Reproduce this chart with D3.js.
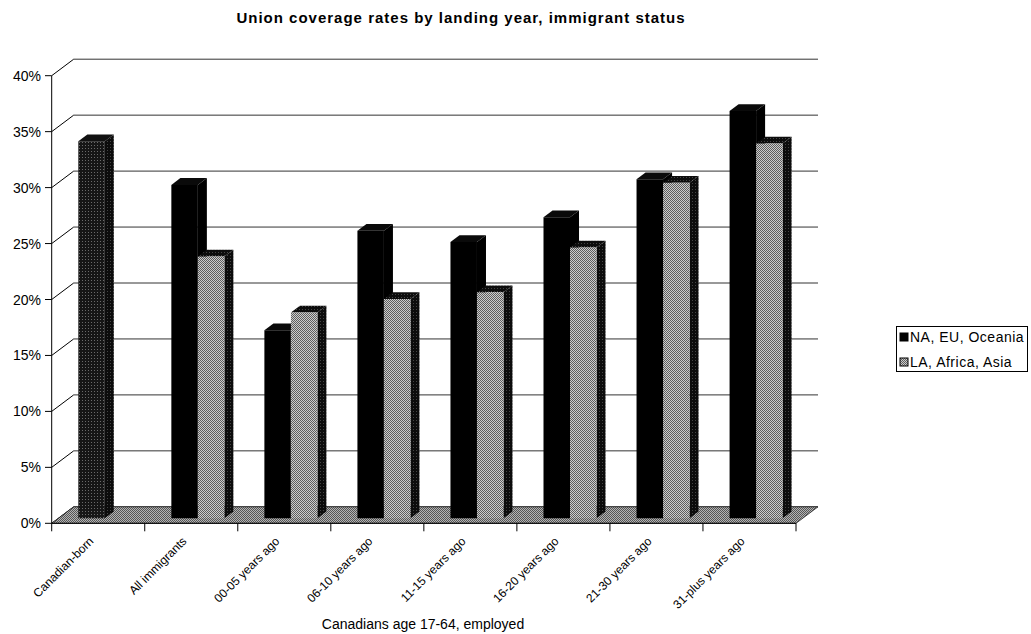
<!DOCTYPE html>
<html>
<head>
<meta charset="utf-8">
<script src="https://cdn.jsdelivr.net/npm/d3@7"></script>
<style>
  body { margin: 0; background: #fff; }
  text { font-family: Arial, "Liberation Sans", sans-serif; fill: #000; }
</style>
</head>
<body>
<div id="vis"></div>
<script>
// datos -----------------------------------------------------------------
const CATEGORIAS = ["Canadian-born", "All immigrants", "00-05 years ago", "06-10 years ago",
  "11-15 years ago", "16-20 years ago", "21-30 years ago", "31-plus years ago"];
const SERIES = ["NA, EU, Oceania", "LA, Africa, Asia"];
const NA_EU = [33.7, 29.8, 16.8, 25.7, 24.7, 26.9, 30.3, 36.4];
const LA_AF = [null, 23.4, 18.4, 19.6, 20.2, 24.2, 30.0, 33.5];
const Y_TICKS = [0, 5, 10, 15, 20, 25, 30, 35, 40];

const WIDTH = 1031;
const HEIGHT = 634;
const SVG = d3.select("#vis").append("svg").attr("width", WIDTH).attr("height", HEIGHT);

// profundidad del piso (efecto 3D)
const DX = 22, DY = -16.5;
const FRONT = 0.3, BACK = 0.71;   // profundidad de las barras (fraccion)

const x = d3.scaleBand().domain(CATEGORIAS).range([51.7, 796]).padding(0);
const xs = d3.scaleBand().domain(SERIES).range([0, x.bandwidth()]).paddingInner(0).paddingOuter(0.755);
const y = d3.scaleLinear().domain([0, 40]).range([523.3, 75.7]);

const P = (px, py, d) => [px + d * DX, py + d * DY];
const poly = pts => pts.map(p => p.join(",")).join(" ");

// patrones de textura
const defs = SVG.append("defs");
function patron(id, size, bg, fg, pix) {
  const p = defs.append("pattern").attr("id", id).attr("patternUnits", "userSpaceOnUse")
    .attr("width", size).attr("height", size);
  p.append("rect").attr("width", size).attr("height", size).attr("fill", bg);
  pix.forEach(([a, b]) => p.append("rect").attr("x", a).attr("y", b).attr("width", 1).attr("height", 1).attr("fill", fg));
}
patron("gris", 2, "#cdcdcd", "#5e5e5e", [[0, 0], [1, 1]]);
patron("piso", 2, "#b4b4b4", "#555", [[0, 0], [1, 1]]);
patron("oscuro", 3, "#161616", "#6a6a6a", [[1, 1]]);
patron("lado", 3, "#0c0c0c", "#444", [[2, 0]]);

// titulo
SVG.append("text").attr("x", 461).attr("y", 23).attr("text-anchor", "middle")
  .style("font-weight", "bold").style("font-size", "15px").style("letter-spacing", "1px")
  .text("Union coverage rates by landing year, immigrant status");

// paredes: grilla trasera y lateral
const grid = SVG.append("g");
Y_TICKS.forEach(t => {
  const [bx, by] = P(51.7, y(t), 1);
  grid.append("line").attr("x1", 51.7).attr("y1", y(t)).attr("x2", bx).attr("y2", by)
    .attr("stroke", "#000").attr("stroke-width", 1);
  grid.append("line").attr("x1", bx).attr("y1", by).attr("x2", 796 + DX).attr("y2", by)
    .attr("stroke", "#333").attr("stroke-width", 1);
  grid.append("line").attr("x1", 45).attr("y1", y(t)).attr("x2", 51.7).attr("y2", y(t))
    .attr("stroke", "#000");
  grid.append("text").attr("x", 41).attr("y", y(t) + 5).attr("text-anchor", "end")
    .style("font-size", "14px").text(t + "%");
});

// piso
const x0 = x.range()[0], x1 = x.range()[1];
SVG.append("polygon")
  .attr("points", poly([[x0, y(0)], [x1, y(0)], P(x1, y(0), 1), P(x0, y(0), 1)]))
  .attr("fill", "url(#piso)").attr("stroke", "#222").attr("stroke-width", 0.8);

// eje vertical y eje x
SVG.append("line").attr("x1", x0).attr("x2", x0).attr("y1", y(40)).attr("y2", y(0))
  .attr("stroke", "#000");
SVG.append("line").attr("x1", x0).attr("x2", x1).attr("y1", y(0)).attr("y2", y(0))
  .attr("stroke", "#000");
[...CATEGORIAS, null].forEach((c, i) => {
  const tx = x0 + i * x.bandwidth();
  SVG.append("line").attr("x1", tx).attr("x2", tx).attr("y1", y(0)).attr("y2", y(0) + 8)
    .attr("stroke", "#000");
});

// barras
const estilos = {
  "NA, EU, Oceania": { front: "#000", top: "#0a0a0a", side: "#000" },
  "LA, Africa, Asia": { front: "url(#gris)", top: "url(#lado)", side: "url(#lado)" }
};
const barras = SVG.append("g");
CATEGORIAS.forEach((c, i) => {
  [[SERIES[0], NA_EU[i]], [SERIES[1], LA_AF[i]]].forEach(([s, v]) => {
    if (v == null) return;
    let st = estilos[s];
    if (c === "Canadian-born") st = { front: "url(#oscuro)", top: "#111", side: "url(#lado)" };
    const left = x(c) + xs(s), right = left + xs.bandwidth();
    const fl = P(left, y(v), FRONT), fr = P(right, y(v), FRONT);
    const bl0 = P(left, y(0), FRONT), br0 = P(right, y(0), FRONT);
    const tl = P(left, y(v), BACK), tr = P(right, y(v), BACK), rb = P(right, y(0), BACK);
    const g = barras.append("g");
    g.append("polygon").attr("points", poly([fr, tr, rb, br0])).attr("fill", st.side);
    g.append("polygon").attr("points", poly([fl, tl, tr, fr])).attr("fill", st.top);
    g.append("polygon").attr("points", poly([fl, fr, br0, bl0])).attr("fill", st.front);
  });
});

// etiquetas eje x
CATEGORIAS.forEach(c => {
  const cx = x(c) + x.bandwidth() / 2 - 4;
  SVG.append("text").attr("transform", `translate(${cx},${542}) rotate(-45)`)
    .attr("text-anchor", "end").style("font-size", "12px").text(c);
});
SVG.append("text").attr("x", 423).attr("y", 629).attr("text-anchor", "middle")
  .style("font-size", "14px").text("Canadians age 17-64, employed");

// leyenda
const ley = SVG.append("g");
ley.append("rect").attr("x", 896.5).attr("y", 326.5).attr("width", 131).attr("height", 45)
  .attr("fill", "#fff").attr("stroke", "#000");
SERIES.forEach((s, i) => {
  const yy = 333 + i * 25;
  ley.append("rect").attr("x", 900).attr("y", yy).attr("width", 8).attr("height", 8)
    .attr("fill", i === 0 ? "#000" : "url(#gris)").attr("stroke", "#000");
  ley.append("text").attr("x", 910).attr("y", yy + 9).style("font-size", "14px")
    .style("letter-spacing", "0.5px").text(s);
});
</script>
</body>
</html>
